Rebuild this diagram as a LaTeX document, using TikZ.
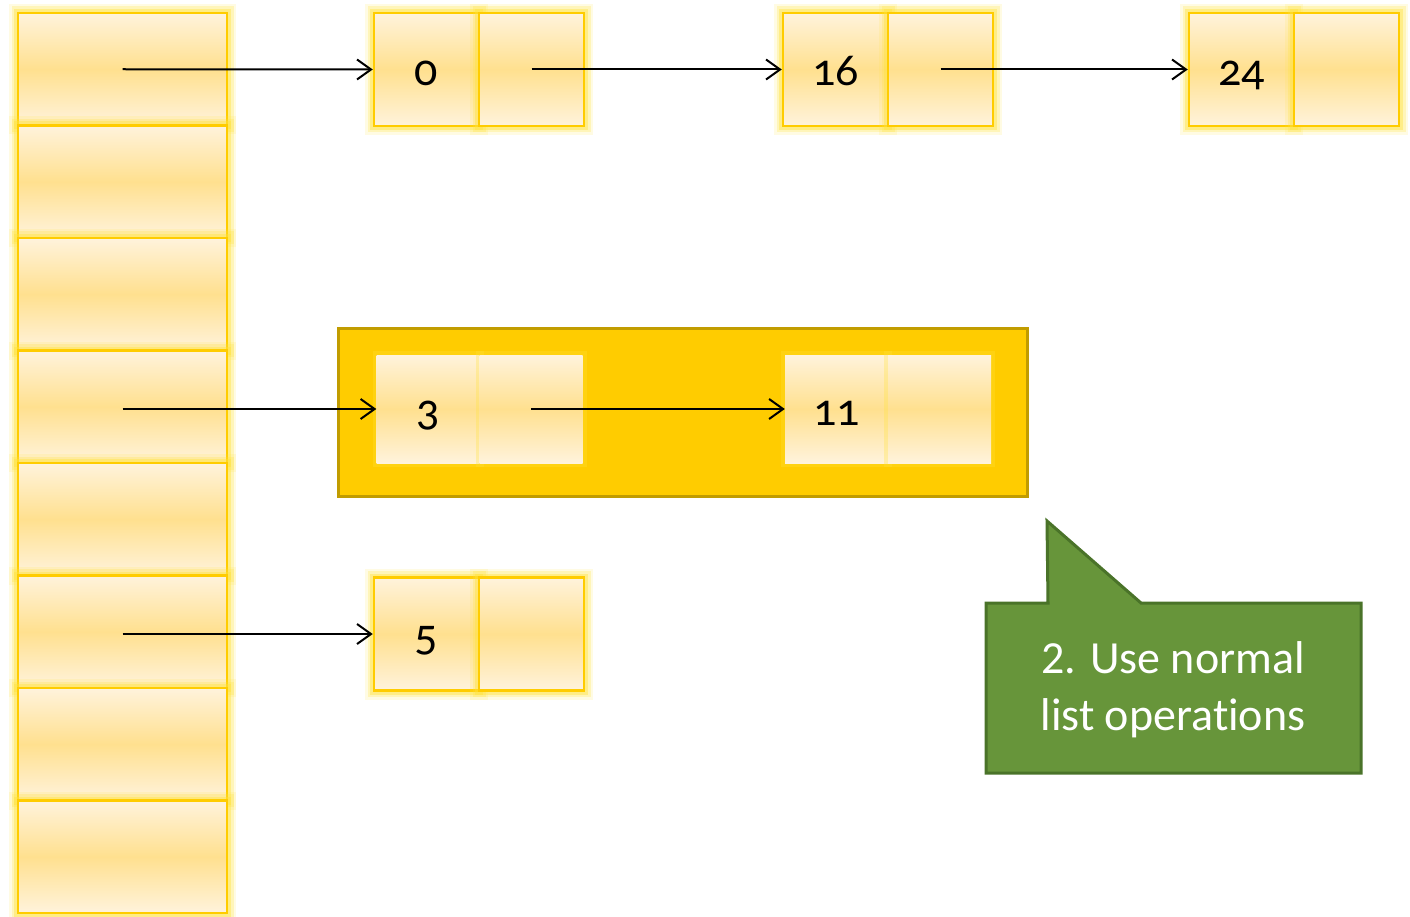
\documentclass[tikz,border=0pt]{standalone}
\usepackage{fontspec}
\setmainfont{Carlito}[Numbers=OldStyle]
\newfontfamily\notefont{Carlito}[Ligatures=NoCommon,Contextuals=NoAlternate]
\usetikzlibrary{arrows.meta}
\definecolor{gold}{HTML}{FFCC00}
\definecolor{cellpale}{HTML}{FFF3DC}
\definecolor{celldeep}{HTML}{FFE08F}
\definecolor{glowc}{HTML}{FFE23A}
\definecolor{boxfill}{HTML}{FFCC00}
\definecolor{boxedge}{HTML}{C19C00}
\definecolor{notefill}{HTML}{67953A}
\definecolor{noteedge}{HTML}{4A7329}
\begin{document}
\begin{tikzpicture}[x=1pt,y=-1pt,
  glow/.style={
    preaction={draw=glowc,line width=18pt,opacity=0.14},
    preaction={draw=glowc,line width=13pt,opacity=0.25},
    preaction={draw=glowc,line width=8pt,opacity=0.4}},
  cell/.style={glow,draw=gold,line width=2.5pt,
    top color=cellpale,bottom color=cellpale,middle color=celldeep,
    inner sep=0pt,text height=32pt,text depth=0pt,
    font=\fontsize{46}{55}\selectfont},
  slot/.style={cell,minimum width=209pt,minimum height=112.5pt},
  half/.style={cell,minimum width=105pt,minimum height=113pt},
  flat/.style={preaction={draw=glowc,line width=8pt,opacity=0.3},
    top color=cellpale,bottom color=cellpale,middle color=celldeep,
    inner sep=0pt,text height=32pt,text depth=0pt,
    minimum width=103pt,minimum height=108pt,
    font=\fontsize{46}{55}\selectfont},
  ptr/.style={-{Straight Barb[length=14pt,width=20pt]},line width=2pt},
  group/.style={draw=boxedge,fill=boxfill,line width=3pt},
  note/.style={draw=noteedge,fill=notefill,line width=3pt,line join=miter},
  notetext/.style={text=white,align=center,
    font=\notefont\fontsize{46}{57}\selectfont}]
\useasboundingbox (0,0) rectangle (1410,917);

% bucket array
\foreach \i in {1,...,8}
  \node[slot] (b\i) at (122.5,{13+(\i-0.5)*112.5}) {};

% highlighted list segment
\draw[group] (338,328) rectangle (1027,496);

% list hanging from bucket 1
\node[half] (k0) at (426.5,69.5) {0};
\node[half] (n0) at (531.5,69.5) {};
\node[half] (k16) at (835.5,69.5) {16};
\node[half] (n16) at (940.5,69.5) {};
\node[half] (k24) at (1241.5,69.5) {24};
\node[half] (n24) at (1346.5,69.5) {};

% list hanging from bucket 4
\node[flat] (k3) at (428,409) {3};
\node[flat] (n3) at (531,409) {};
\node[flat] (k11) at (836.5,409) {11};
\node[flat] (n11) at (939.5,409) {};

% list hanging from bucket 6
\node[half] (k5) at (426.5,634) {5};
\node[half] (n5) at (531.5,634) {};

% pointers
\draw[ptr] (b1.center) -- (k0.west);
\draw[ptr] (n0.center) -- (k16.west);
\draw[ptr] (n16.center) -- (k24.west);
\draw[ptr] (b4.center |- k3.west) -- (k3.west);
\draw[ptr] (n3.center) -- (k11.west);
\draw[ptr] (b6.center |- k5.west) -- (k5.west);

% callout
\draw[note] (986,603) -- (1048,603) -- (1047,521) -- (1141,603)
  -- (1361,603) -- (1361,773) -- (986,773) -- cycle;
\node[notetext] (label) at (1173,690) {2. Use normal\\list operat\kern0pt ions};
\end{tikzpicture}
\end{document}
